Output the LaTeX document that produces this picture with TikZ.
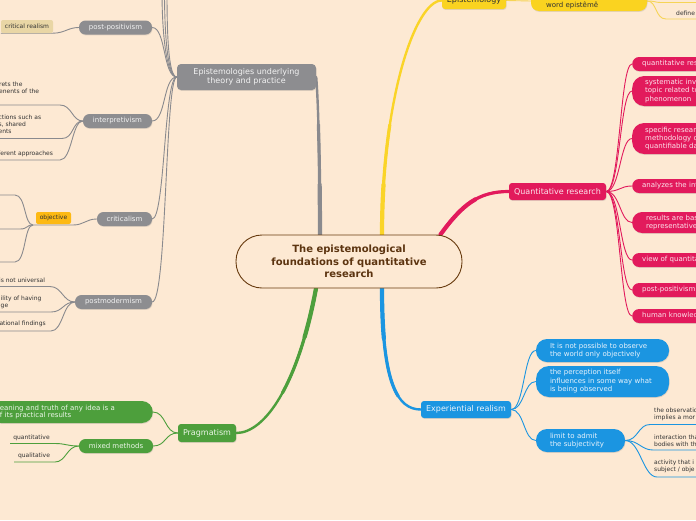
\documentclass[tikz,border=0pt]{standalone}
\usepackage{fontspec}
\setmainfont{DejaVu Sans}
\usetikzlibrary{shadows}
\pgfdeclarelayer{bgl}
\pgfsetlayers{bgl,main}
\definecolor{bg}{RGB}{253,233,211}
\definecolor{gnode}{RGB}{141,141,144}
\definecolor{gline}{RGB}{138,138,142}
\definecolor{gtext}{RGB}{242,242,242}
\definecolor{ynode}{RGB}{250,211,32}
\definecolor{yline}{RGB}{250,212,40}
\definecolor{ytwig}{RGB}{246,212,86}
\definecolor{mnode}{RGB}{226,26,92}
\definecolor{mtext}{RGB}{252,228,236}
\definecolor{bnode}{RGB}{27,149,225}
\definecolor{btext}{RGB}{232,243,252}
\definecolor{pnode}{RGB}{77,159,60}
\definecolor{ptext}{RGB}{236,246,232}
\definecolor{tanbox}{RGB}{233,214,165}
\definecolor{orng}{RGB}{253,185,19}
\definecolor{brownline}{RGB}{103,58,14}
\definecolor{browntext}{RGB}{92,52,16}
\definecolor{tdark}{RGB}{50,50,50}
\begin{document}
\begin{tikzpicture}[x=1pt,y=-1pt,
  dshadow/.style={drop shadow={shadow xshift=0.5pt,shadow yshift=-0.9pt,opacity=0.22}},
  f6/.style={font=\fontsize{6}{7}\selectfont},
  f7/.style={font=\fontsize{7}{8}\selectfont},
  f8/.style={font=\fontsize{8}{9}\selectfont},
  mainbox/.style={inner sep=0pt, rounded corners=3pt, minimum height=17pt, f8, dshadow},
  subpill/.style={inner sep=0pt, rounded corners=6.5pt, minimum height=14pt, f7, dshadow},
  tiny/.style={inner sep=0pt, f6, text=tdark, align=left},
  mleaf/.style={inner xsep=10pt, inner ysep=0pt, fill=mnode, text=mtext, f7, anchor=west, text width=80pt, align=left, rounded corners=7pt, dshadow},
  bleaf/.style={inner xsep=14pt, inner ysep=0pt, fill=bnode, text=btext, f7, align=left, dshadow},
  trunkA/.style={line width=2.4pt, line cap=round},
  trunkB/.style={line width=3.2pt, line cap=round, dash pattern=on 110pt off 3000pt},
  trunkC/.style={line width=4.2pt, line cap=round, dash pattern=on 50pt off 3000pt},
  twig/.style={line width=0.9pt},
]
\useasboundingbox (0,0) rectangle (696,520);
\begin{scope}
\clip (0,0) rectangle (696,520);
% central
\node[draw=brownline, line width=0.9pt, fill=bg, rounded corners=26pt, minimum width=226pt, minimum height=53pt, inner sep=0pt, align=center, text=browntext, font=\bfseries\fontsize{10}{12.5}\selectfont] (c) at (349,261.5) {The epistemological\\foundations of quantitative\\research};
% gray branch
\node[mainbox, fill=gnode, text=gtext, minimum width=139pt, minimum height=26pt, rounded corners=4pt, align=center, font=\fontsize{8}{8.7}\selectfont] (g) at (246.5,77) {Epistemologies underlying\\theory and practice};
\node[subpill, fill=gnode, text=gtext, minimum width=73pt] (pp) at (115.5,27.5) {post-positivism};
\node[subpill, fill=gnode, text=gtext, minimum width=69pt] (ip) at (117.5,121) {interpretivism};
\node[subpill, fill=gnode, text=gtext, minimum width=55pt] (ct) at (124.5,219) {criticalism};
\node[subpill, fill=gnode, text=gtext, minimum width=77pt] (pm) at (113.5,302) {postmodermism};
\node[inner sep=0pt, fill=tanbox, rounded corners=2pt, minimum width=52pt, minimum height=13pt, f6, text=tdark] (crl) at (27,26.5) {critical realism};
\node[inner sep=0pt, fill=orng, rounded corners=2pt, minimum width=35pt, minimum height=12pt, f6, text=tdark] (obj) at (53.5,218) {objective};
\node[tiny, anchor=west] (it1) at (-1,87.5) {rets the\\enents of the};
\node[tiny, anchor=west] (it2) at (-1.6,124) {ctions such as\\s, shared\\ents};
\node[tiny, anchor=west] (it3) at (-2,154) {ferent approaches};
\node[tiny, anchor=west] (pt1) at (-1,280) {is not universal};
\node[tiny, anchor=west] (pt2) at (0.5,302) {ility of having\\ge};
\node[tiny, anchor=west] (pt3) at (-0.7,324) {ational findings};
% yellow branch
\node[mainbox, fill=ynode, text=tdark, minimum width=64pt] (ep) at (474,0.5) {Epistemology};
\node[inner sep=0pt, fill=ynode, rounded corners=8pt, minimum width=116pt, minimum height=20pt, dshadow] (wd) at (589,1) {};
\node[inner sep=0pt, anchor=west, f7, text=tdark] (wdt) at (546,5) {word epistêmê};
\node[tiny, anchor=west] (df) at (676,13) {define};
% magenta branch
\node[mainbox, fill=mnode, text=mtext, minimum width=97pt] (q) at (557.5,191.5) {Quantitative research};
\node[mleaf, minimum height=14pt] (m1) at (632,64) {quantitative res};
\node[mleaf, minimum height=30pt, inner xsep=13pt, rounded corners=12pt, font=\fontsize{7}{8.5}\selectfont] (m2) at (632,91) {systematic inv\\topic related to\\phenomenon};
\node[mleaf, minimum height=31pt, inner xsep=13pt, rounded corners=12pt, font=\fontsize{7}{8.2}\selectfont] (m3) at (632,138.5) {specific researc\\methodology c\\quantifiable da};
\node[mleaf, minimum height=14pt] (m4) at (632,186) {analyzes the int};
\node[mleaf, minimum height=21pt, inner xsep=14pt, rounded corners=10pt] (m5) at (632,222.5) {results are bas\\representative};
\node[mleaf, minimum height=14pt] (m6) at (632,260) {view of quantita};
\node[mleaf, minimum height=14pt] (m7) at (632,290) {post-positivism};
\node[mleaf, minimum height=14pt] (m8) at (632,316) {human knowledg};
% blue branch
\node[mainbox, fill=bnode, text=btext, minimum width=90pt] (x) at (466,409.5) {Experiential realism};
\node[bleaf, text width=105pt, minimum height=23pt, rounded corners=11pt] (b1) at (602.5,350.5) {It is not possible to observe\\the world only objectively};
\node[bleaf, text width=105pt, minimum height=31pt, rounded corners=13pt, font=\fontsize{7}{8.5}\selectfont] (b2) at (602.5,381.5) {the perception itself\\influences in some way what\\is being observed};
\node[bleaf, text width=61pt, minimum height=23pt, rounded corners=11pt, font=\fontsize{7}{8.6}\selectfont] (b3) at (580.5,440.5) {limit to admit\\the subjectivity};
\node[tiny, anchor=west] (l1) at (654,414.5) {the observatio\\implies a mor};
\node[tiny, anchor=west] (l2) at (654,440.5) {interaction tha\\bodies with th};
\node[tiny, anchor=west] (l3) at (654,466.5) {activity that i\\subject / obje};
% green branch
\node[mainbox, fill=pnode, text=ptext, minimum width=58pt, minimum height=18pt] (pr) at (207,433) {Pragmatism};
\node[inner xsep=10pt, inner ysep=0pt, fill=pnode, text=ptext, font=\fontsize{7}{7.7}\selectfont, text width=143pt, align=left, minimum height=22pt, rounded corners=11pt, anchor=east, dshadow] (mn) at (153,412) {eaning and truth of any idea is a\\f its practical results};
\node[subpill, fill=pnode, text=ptext, minimum width=74pt] (mx) at (116,446) {mixed methods};
\node[tiny, anchor=center] (qn) at (31.5,437.5) {quantitative};
\node[tiny, anchor=center] (ql) at (34,456) {qualitative};
% free ends of connectors
\coordinate (gt1) at (162,-8);
\coordinate (gt2) at (164.5,-8);
\coordinate (gt3) at (167,-8);
\coordinate (i1a) at (60,105);   \coordinate (i1b) at (-5,105);
\coordinate (i2a) at (62,138.5); \coordinate (i2b) at (-5,138.5);
\coordinate (i3a) at (60,160);   \coordinate (i3b) at (-5,160);
\coordinate (o1) at (73,225);    \coordinate (o0) at (33,225);
\coordinate (c1a) at (15,195);   \coordinate (c1b) at (-5,195);
\coordinate (c2a) at (20,229);   \coordinate (c2b) at (-5,229);
\coordinate (c3a) at (15,262);   \coordinate (c3b) at (-5,262);
\coordinate (p1a) at (50,286.5); \coordinate (p1b) at (-5,286.5);
\coordinate (p2a) at (51,312);   \coordinate (p2b) at (-5,312);
\coordinate (p3a) at (51,331);   \coordinate (p3b) at (-5,331);
\coordinate (y1a) at (662,2.5);  \coordinate (y1b) at (700,2.5);
\coordinate (y2a) at (666,19);   \coordinate (y2b) at (700,19);
\coordinate (u1a) at (650,424.5); \coordinate (u1b) at (700,424.5);
\coordinate (u2a) at (653,450);   \coordinate (u2b) at (700,450);
\coordinate (u3a) at (657,477);   \coordinate (u3b) at (700,477);
\coordinate (q1a) at (55,443.5); \coordinate (q1b) at (10,443.5);
\coordinate (q2a) at (55,462);   \coordinate (q2b) at (14,462);
\end{scope}
\begin{pgfonlayer}{bgl}
\clip (0,0) rectangle (696,520);
\fill[bg] (0,0) rectangle (696,520);
% trunks (tapering: thicker near the centre)
\foreach \st in {trunkA,trunkB,trunkC}{
  \draw[\st, draw=gline] ([xshift=-29pt]c.north) .. controls (320,200) and (319,110) .. (g.east);
  \draw[\st, draw=yline] ([xshift=33pt]c.north) .. controls (382,100) and (415,0.5) .. (ep.west);
  \draw[\st, draw=mnode] ([xshift=-22pt]c.north east) .. controls (462,205) and (478,191.5) .. (q.west);
  \draw[\st, draw=bnode] ([xshift=33pt]c.south) .. controls (382,385) and (398,409.5) .. (x.west);
  \draw[\st, draw=pnode] ([xshift=-33pt]c.south) .. controls (298,385) and (265,433) .. (pr.east);
}
% gray twigs
\draw[twig, gline] (g.west) .. controls (163,77) and (166,27.5) .. (pp.east);
\draw[twig, gline] (g.west) .. controls (163,77) and (166,121) .. (ip.east);
\draw[twig, gline] (g.west) .. controls (164,77) and (165,219) .. (ct.east);
\draw[twig, gline] (g.west) .. controls (165,77) and (167,302) .. (pm.east);
\draw[twig, gline] (g.west) .. controls (166,77) and (162,30) .. (gt1);
\draw[twig, gline] (g.west) .. controls (167,77) and (164.5,30) .. (gt2);
\draw[twig, gline] (g.west) .. controls (168,77) and (167,30) .. (gt3);
\draw[twig, gline] (pp.west) .. controls (68,27.5) and (65,33) .. (crl.south east) -- (crl.south west);
\draw[twig, gline] (ip.west) .. controls (72,121) and (72,105) .. (i1a) -- (i1b);
\draw[twig, gline] (ip.west) .. controls (72,121) and (74,138.5) .. (i2a) -- (i2b);
\draw[twig, gline] (ip.west) .. controls (72,121) and (72,160) .. (i3a) -- (i3b);
\draw[twig, gline] (ct.west) .. controls (86,219) and (84,225) .. (o1) -- (o0);
\draw[twig, gline] (o0) .. controls (24,225) and (26,195) .. (c1a) -- (c1b);
\draw[twig, gline] (o0) .. controls (26,225) and (28,229) .. (c2a) -- (c2b);
\draw[twig, gline] (o0) .. controls (24,225) and (26,262) .. (c3a) -- (c3b);
\draw[twig, gline] (pm.west) .. controls (63,302) and (62,286.5) .. (p1a) -- (p1b);
\draw[twig, gline] (pm.west) .. controls (63,302) and (63,312) .. (p2a) -- (p2b);
\draw[twig, gline] (pm.west) .. controls (63,302) and (63,331) .. (p3a) -- (p3b);
% yellow twigs
\draw[twig, ytwig] (ep.east) -- (wd.west);
\draw[twig, ytwig] (wd.east) .. controls (656,1) and (654,2.5) .. (y1a) -- (y1b);
\draw[twig, ytwig] (wd.east) .. controls (657,1) and (655,19) .. (y2a) -- (y2b);
% magenta twigs
\foreach \n in {m1,m2,m3,m4,m5,m6,m7,m8}
  \draw[twig, mnode] (q.east) .. controls +(14,0) and +(-12,0) .. (\n.west);
% blue twigs
\foreach \n in {b1,b2,b3}
  \draw[twig, bnode] (x.east) .. controls +(13,0) and +(-12,0) .. (\n.west);
\draw[twig, bnode] (b3.east) .. controls +(13,0) and +(-12,0) .. (u1a) -- (u1b);
\draw[twig, bnode] (b3.east) .. controls +(14,0) and +(-12,0) .. (u2a) -- (u2b);
\draw[twig, bnode] (b3.east) .. controls +(15,0) and +(-14,0) .. (u3a) -- (u3b);
% green twigs
\draw[twig, pnode] (pr.west) .. controls +(-13,0) and +(13,0) .. (mn.east);
\draw[twig, pnode] (pr.west) .. controls +(-13,0) and +(13,0) .. (mx.east);
\draw[twig, pnode] (mx.west) .. controls +(-12,0) and +(11,0) .. (q1a) -- (q1b);
\draw[twig, pnode] (mx.west) .. controls +(-12,0) and +(11,0) .. (q2a) -- (q2b);
\end{pgfonlayer}
\end{tikzpicture}
\end{document}
